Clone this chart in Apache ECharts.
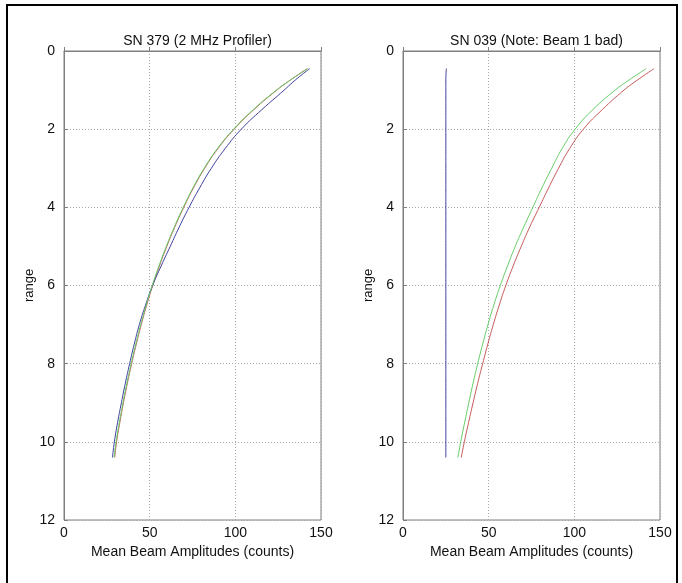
<!DOCTYPE html>
<html>
<head>
<meta charset="utf-8">
<script src="https://cdn.jsdelivr.net/npm/echarts@6/dist/echarts.min.js"></script>
<style>
  html, body { margin: 0; padding: 0; background: #fff; }
  #chart { width: 682px; height: 583px; }
</style>
</head>
<body>
<div id="chart"></div>
<script>
// range bins (y axis, shared by every beam)
var ranges = [0.45, 0.6, 0.8, 1, 1.5, 2, 2.5, 3, 3.5, 4, 4.5, 5, 5.5, 6, 6.5, 7, 7.5, 8, 8.5, 9, 9.5, 10, 10.4];

// SN 379 - mean amplitudes per beam
var sn379Beam1 = [143.5, 139, 133.5, 128.5, 115.5, 103.5, 94, 86, 79.2, 73, 67.3, 62, 56.7, 51.7, 47.6, 44, 41, 38.3, 35.8, 33.5, 31.3, 29.4, 28.3];
var sn379Beam2 = [142.5, 137, 130.3, 124, 110.5, 99, 89.5, 81.8, 75.3, 69.6, 64.4, 59.7, 55.4, 51.5, 48, 44.8, 41.9, 39.2, 36.7, 34.4, 32.3, 30.4, 29.2];
var sn379Beam3 = [142, 136.8, 130.3, 124.2, 110.8, 99.3, 89.8, 82.1, 75.6, 69.9, 64.7, 60, 55.7, 51.8, 48.3, 45.1, 42.2, 39.5, 37, 34.7, 32.6, 30.7, 29.6];

// SN 039 - beam 1 is bad (flat)
var sn039Beam1 = [25.3, 25.1, 25, 25, 25, 25, 25, 25, 25, 25, 25, 25, 25, 25, 25, 25, 25, 25, 25, 25, 25, 25, 25];
var sn039Beam2 = [142, 136.8, 130, 123.8, 110.8, 100.5, 92.8, 86.8, 81.1, 75.8, 70.5, 65.5, 61, 56.8, 53, 49.6, 46.5, 43.6, 40.9, 38.4, 36, 33.7, 32];
var sn039Beam3 = [146.5, 141.5, 135, 129, 116.3, 105.3, 97.2, 90.8, 85, 79.5, 74, 69, 64.3, 60, 56.2, 52.7, 49.5, 46.5, 43.6, 40.9, 38.3, 35.8, 34];

var titles = ['SN 379 (2 MHz Profiler)', 'SN 039 (Note: Beam 1 bad)'];
var xTicks = [0, 50, 100, 150];
var yTicks = [0, 2, 4, 6, 8, 10, 12];

var beamColors = ['#3f3f9f', '#66cc66', '#c65a5a'];

function pairs(xs) {
    return xs.map(function (v, i) { return [v, ranges[i]]; });
}

var chart = echarts.init(document.getElementById('chart'));

var grids = [
    { left: 64, top: 51, width: 257, height: 469 },
    { left: 403, top: 51, width: 257, height: 469 }
];
grids.forEach(function (g) {
    g.show = true;
    g.borderColor = '#7f7f7f';
    g.borderWidth = 1;
    g.backgroundColor = '#fff';
});

var gridLine = { show: true, lineStyle: { color: '#a8a8a8', type: [1, 2], width: 1 } };
var lblFont = { color: '#111', fontSize: 14, fontFamily: 'Liberation Sans, Arial, sans-serif' };

var xAxes = [0, 1].map(function (i) {
    return {
        gridIndex: i, type: 'value', min: xTicks[0], max: xTicks[xTicks.length - 1], interval: 50,
        name: 'Mean Beam Amplitudes (counts)', nameLocation: 'middle', nameGap: 22,
        nameTextStyle: { color: '#111', fontSize: 14, fontFamily: 'Liberation Sans, Arial, sans-serif' },
        axisLine: { show: true, lineStyle: { color: '#7f7f7f' } },
        axisTick: { show: true, inside: true, length: 4, lineStyle: { color: '#7f7f7f' } },
        axisLabel: Object.assign({ margin: 6 }, lblFont),
        splitLine: gridLine
    };
});

var yAxes = [0, 1].map(function (i) {
    return {
        gridIndex: i, type: 'value', inverse: true, min: yTicks[0], max: yTicks[yTicks.length - 1], interval: 2,
        name: 'range', nameLocation: 'middle', nameGap: 28, nameRotate: 90,
        nameTextStyle: { color: '#111', fontSize: 13, fontFamily: 'Liberation Sans, Arial, sans-serif' },
        axisLine: { show: true, lineStyle: { color: '#7f7f7f' } },
        axisTick: { show: true, inside: true, length: 4, lineStyle: { color: '#7f7f7f' } },
        axisLabel: Object.assign({ margin: 9 }, lblFont),
        splitLine: gridLine
    };
});

var beams = [
    [sn379Beam1, sn379Beam2, sn379Beam3],
    [sn039Beam1, sn039Beam2, sn039Beam3]
];

var series = [];
beams.forEach(function (set, g) {
    set.forEach(function (vals, b) {
        series.push({
            type: 'line', xAxisIndex: g, yAxisIndex: g,
            data: pairs(vals), showSymbol: false, smooth: 0.5,
            lineStyle: { color: beamColors[b], width: 1 },
            itemStyle: { color: beamColors[b] },
            z: b === 2 ? 2 : 3
        });
    });
});

var option = {
    backgroundColor: '#fff',
    animation: false,
    title: titles.map(function (t, i) {
        return {
            text: t, left: grids[i].left + grids[i].width / 2, top: 29, textAlign: 'center',
            textStyle: { color: '#111', fontSize: 14, fontWeight: 'normal', fontFamily: 'Liberation Sans, Arial, sans-serif' }
        };
    }),
    grid: grids,
    xAxis: xAxes,
    yAxis: yAxes,
    series: series,
    graphic: [{
        type: 'rect', shape: { x: 7, y: 5, width: 670, height: 600 },
        style: { fill: null, stroke: '#000', lineWidth: 2 }, silent: true
    }]
};

chart.setOption(option);
</script>
</body>
</html>
